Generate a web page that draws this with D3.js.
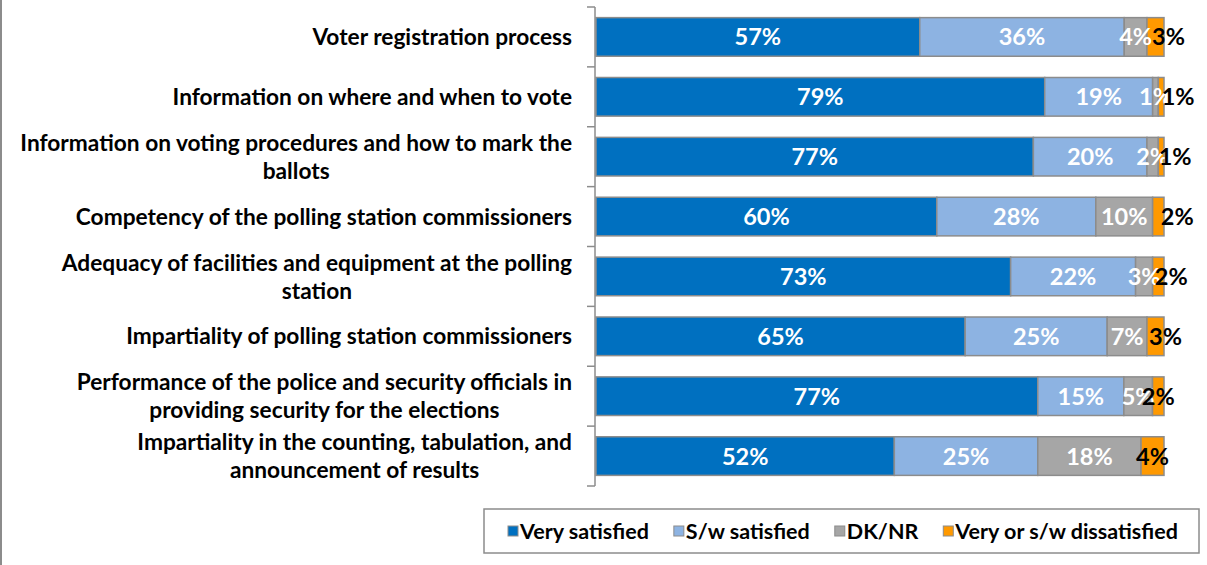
<!DOCTYPE html>
<html>
<head>
<meta charset="utf-8">
<script src="https://cdn.jsdelivr.net/npm/d3@7"></script>
<style>
  body { margin: 0; background: #fff; }
  svg { display: block; }
  text { font-family: Lato, "Noto Sans", sans-serif; font-weight: 700; }
</style>
</head>
<body>
<svg id="chart" width="1207" height="565"></svg>
<script>
// Satisfaction with aspects of the electoral process (share of respondents, %)
const categories = [
  "Voter registration process",
  "Information on where and when to vote",
  "Information on voting procedures and how to mark the\nballots",
  "Competency of the polling station commissioners",
  "Adequacy of facilities and equipment at the polling\nstation",
  "Impartiality of polling station commissioners",
  "Performance of the police and security officials in\nproviding security for the elections",
  "Impartiality in the counting, tabulation, and\nannouncement of results"
];
const seriesNames = ["Very satisfied", "S/w satisfied", "DK/NR", "Very or s/w dissatisfied"];
const verySatisfied = [57, 79, 77, 60, 73, 65, 77, 52];
const swSatisfied   = [36, 19, 20, 28, 22, 25, 15, 25];
const dkNr          = [4, 1, 2, 10, 3, 7, 5, 18];
const dissatisfied  = [3, 1, 1, 2, 2, 3, 2, 4];

const colors = ["#0070C0", "#8DB3E2", "#A6A6A6", "#FF9900"];
const labelColors = ["#fff", "#fff", "#fff", "#000"];

const svg = d3.select("#chart");
const W = 1207, H = 565;

// outer frame edge on the left
svg.append("line").attr("x1", 1).attr("x2", 1).attr("y1", 0).attr("y2", H)
  .attr("stroke", "#8c8c8c").attr("stroke-width", 2);

const rows = categories.map((c, i) => {
  const vals = [verySatisfied[i], swSatisfied[i], dkNr[i], dissatisfied[i]];
  const total = d3.sum(vals);
  let acc = 0;
  const segs = vals.map((v, k) => {
    const s = { key: k, value: v, x0: acc / total, x1: (acc + v) / total };
    acc += v;
    return s;
  });
  return { category: c, segs };
});

// 100% stacked horizontal bars
const x = d3.scaleLinear().domain([0, 1]).range([596, 1164]);
const y = d3.scaleBand().domain(categories).range([7, 486])
  .paddingInner(0.355).paddingOuter(0.1775);

// category axis with ticks between bands
const axisX = 595;
const axisG = svg.append("g").attr("stroke", "#8c8c8c").attr("stroke-width", 1.5);
axisG.append("line").attr("x1", axisX).attr("x2", axisX)
  .attr("y1", y.range()[0]).attr("y2", y.range()[1]);
d3.range(categories.length + 1).forEach(i => {
  const yy = y.range()[0] + i * y.step();
  axisG.append("line").attr("x1", axisX - 8).attr("x2", axisX).attr("y1", yy).attr("y2", yy);
});

const rowG = svg.selectAll("g.row").data(rows).join("g").attr("class", "row")
  .attr("transform", d => `translate(0,${y(d.category)})`);

rowG.selectAll("rect").data(d => d.segs).join("rect")
  .attr("x", s => x(s.x0))
  .attr("width", s => x(s.x1) - x(s.x0))
  .attr("y", 0)
  .attr("height", y.bandwidth())
  .attr("fill", s => colors[s.key])
  .attr("stroke", "#8c8c8c")
  .attr("stroke-width", 1.5);

// horizontal shift of the last-segment labels, px
const lastLabelShift = [13, 17, 14, 19, 13, 10, 0, 0];

rowG.each(function (d, i) {
  const g = d3.select(this);
  d.segs.forEach(s => {
    let cx = (x(s.x0) + x(s.x1)) / 2;
    if (s.key === 3) cx += lastLabelShift[i];
    g.append("text")
      .attr("x", cx)
      .attr("y", y.bandwidth() / 2)
      .attr("dy", "0.36em")
      .attr("text-anchor", "middle")
      .attr("font-size", 23.5)
      .attr("fill", labelColors[s.key])
      .text(s.value + "%");
  });
});

// category labels: wrapped lines centred on each other, block right-aligned
const labelRight = 572;
const lineH = 28;
categories.forEach(c => {
  const lines = c.split("\n");
  const g = svg.append("g");
  const cy = y(c) + y.bandwidth() / 2;
  const texts = lines.map((ln, k) => g.append("text")
    .attr("y", cy + (k - (lines.length - 1) / 2) * lineH)
    .attr("dy", "0.36em")
    .attr("text-anchor", "middle")
    .attr("font-size", 22.7)
    .attr("fill", "#000")
    .text(ln));
  const widths = texts.map(t => t.node().getComputedTextLength());
  const blockW = d3.max(widths);
  texts.forEach(t => t.attr("x", labelRight - blockW / 2));
});

// legend
const legend = svg.append("g");
legend.append("rect").attr("x", 484).attr("y", 509).attr("width", 715).attr("height", 44)
  .attr("fill", "#fff").attr("stroke", "#8c8c8c").attr("stroke-width", 1.5);
let lx = 508;
const ly = 531;
seriesNames.forEach((name, k) => {
  legend.append("rect").attr("x", lx).attr("y", ly - 5).attr("width", 10).attr("height", 10)
    .attr("fill", colors[k]).attr("stroke", "#8c8c8c").attr("stroke-width", 1);
  const t = legend.append("text").attr("x", lx + 12).attr("y", ly).attr("dy", "0.36em")
    .attr("font-size", 21.5).attr("fill", "#000").text(name);
  lx += 12 + t.node().getComputedTextLength() + 25;
});
</script>
</body>
</html>
